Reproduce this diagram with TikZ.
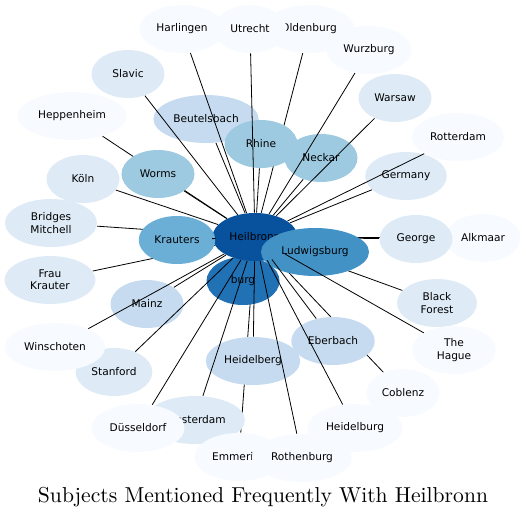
\documentclass[tikz,border=0pt]{standalone}
\usepackage{fontspec}
\newfontfamily\labelfont{DejaVu Sans}
\newfontfamily\titlefont{lmroman10-regular.otf}
\usetikzlibrary{shapes.geometric}
\definecolor{shade1}{HTML}{F7FBFF}
\definecolor{shade2}{HTML}{DEEBF7}
\definecolor{shade3}{HTML}{C6DBEF}
\definecolor{shade4}{HTML}{9ECAE1}
\definecolor{shade5}{HTML}{6BAED6}
\definecolor{shade6}{HTML}{4292C6}
\definecolor{shade7}{HTML}{2171B5}
\definecolor{shade8}{HTML}{08519C}
\pgfdeclarelayer{below}
\pgfsetlayers{below,main}
\tikzset{every path/.style={line width=0.8pt}}
\tikzset{town/.style={ellipse, inner xsep=4.5pt, inner ysep=0pt,
    minimum width=73pt, minimum height=48pt, align=center,
    font=\labelfont\fontsize{10.6}{12.2}\selectfont}}
\newcommand{\link}[1]{
  \draw (heilbronn) -- (#1);
}

\begin{document}
\begin{tikzpicture}[x=1pt,y=-1pt]
    \useasboundingbox (0,0) rectangle (526,519);

    % north
    \node[town, fill=shade1] (oldenburg) at (309,29) {Oldenburg};
    \node[town, fill=shade1] (harlingen) at (182,29) {Harlingen};
    \node[town, fill=shade1] (utrecht) at (250,29) {Utrecht};
    \node[town, fill=shade1] (wurzburg) at (369,50) {Wurzburg};
    \node[town, fill=shade2] (slavic) at (128,74) {Slavic};
    \node[town, fill=shade1] (heppenheim) at (72,116) {Heppenheim};
    \node[town, fill=shade3] (beutelsbach) at (206,119) {Beutelsbach};
    \node[town, fill=shade4] (rhine) at (261,144) {Rhine};
    \node[town, fill=shade4] (neckar) at (321,158) {Neckar};
    \node[town, fill=shade2] (warsaw) at (395,98) {Warsaw};
    \node[town, fill=shade1] (rotterdam) at (458,137) {Rotterdam};
    \node[town, fill=shade2] (germany) at (406,176) {Germany};

    % west
    \node[town, fill=shade4] (worms) at (158,174) {Worms};
    \node[town, fill=shade2] (koln) at (83,179) {Köln};
    \node[town, fill=shade2, minimum width=92pt] (bridges) at (51,223) {Bridges\\Mitchell};
    \node[town, fill=shade2, minimum width=91pt] (frau) at (50,280) {Frau\\Krauter};

    % centre
    \node[town, fill=shade7] (burg) at (243,281) {burg};
    \node[town, fill=shade8] (heilbronn) at (255,237) {Heilbronn};
    \node[town, fill=shade5] (krauters) at (177,240) {Krauters};
    \node[town, fill=shade6] (ludwigsburg) at (315,252) {Ludwigsburg};

    % east
    \node[town, fill=shade1] (alkmaar) at (483,238) {Alkmaar};
    \node[town, fill=shade2] (george) at (416,239) {George};
    \node[town, fill=shade2, minimum width=80pt] (blackforest) at (437,303) {Black\\Forest};
    \node[town, fill=shade1, minimum width=84pt] (thehague) at (454,350) {The\\Hague};

    % south
    \node[town, fill=shade3] (mainz) at (147,304) {Mainz};
    \node[town, fill=shade2] (stanford) at (114,372) {Stanford};
    \node[town, fill=shade1] (winschoten) at (55,347) {Winschoten};
    \node[town, fill=shade3] (heidelberg) at (253,361) {Heidelberg};
    \node[town, fill=shade3] (eberbach) at (333,341) {Eberbach};
    \node[town, fill=shade1] (coblenz) at (403,393) {Coblenz};
    \node[town, fill=shade2] (amsterdam) at (195,420) {Amsterdam};
    \node[town, fill=shade1] (dusseldorf) at (138,428) {Düsseldorf};
    \node[town, fill=shade1] (emmerich) at (239,457) {Emmerich};
    \node[town, fill=shade1] (heidelburg) at (355,428) {Heidelburg};
    \node[town, fill=shade1] (rothenburg) at (302,458) {Rothenburg};

    % links under the towns
    \begin{pgfonlayer}{below}
      \link{oldenburg}
      \link{heppenheim}
      \link{bridges}
      \link{frau}
      \link{burg}
      \link{ludwigsburg}
      \link{george}
      \link{alkmaar}
      \link{blackforest}
      \link{coblenz}
      \link{emmerich}
    \end{pgfonlayer}

    % links over the towns
    \link{harlingen}
    \link{utrecht}
    \link{wurzburg}
    \link{slavic}
    \link{beutelsbach}
    \link{rhine}
    \link{neckar}
    \link{warsaw}
    \link{rotterdam}
    \link{germany}
    \link{worms}
    \link{koln}
    \link{krauters}
    \link{thehague}
    \link{mainz}
    \link{winschoten}
    \link{stanford}
    \link{dusseldorf}
    \link{amsterdam}
    \link{heidelberg}
    \link{rothenburg}
    \link{heidelburg}
    \link{eberbach}

    \node[font=\titlefont\fontsize{21.6}{26}\selectfont] (title) at (263,497) {Subjects Mentioned Frequently With Heilbronn};
\end{tikzpicture}
\end{document}
